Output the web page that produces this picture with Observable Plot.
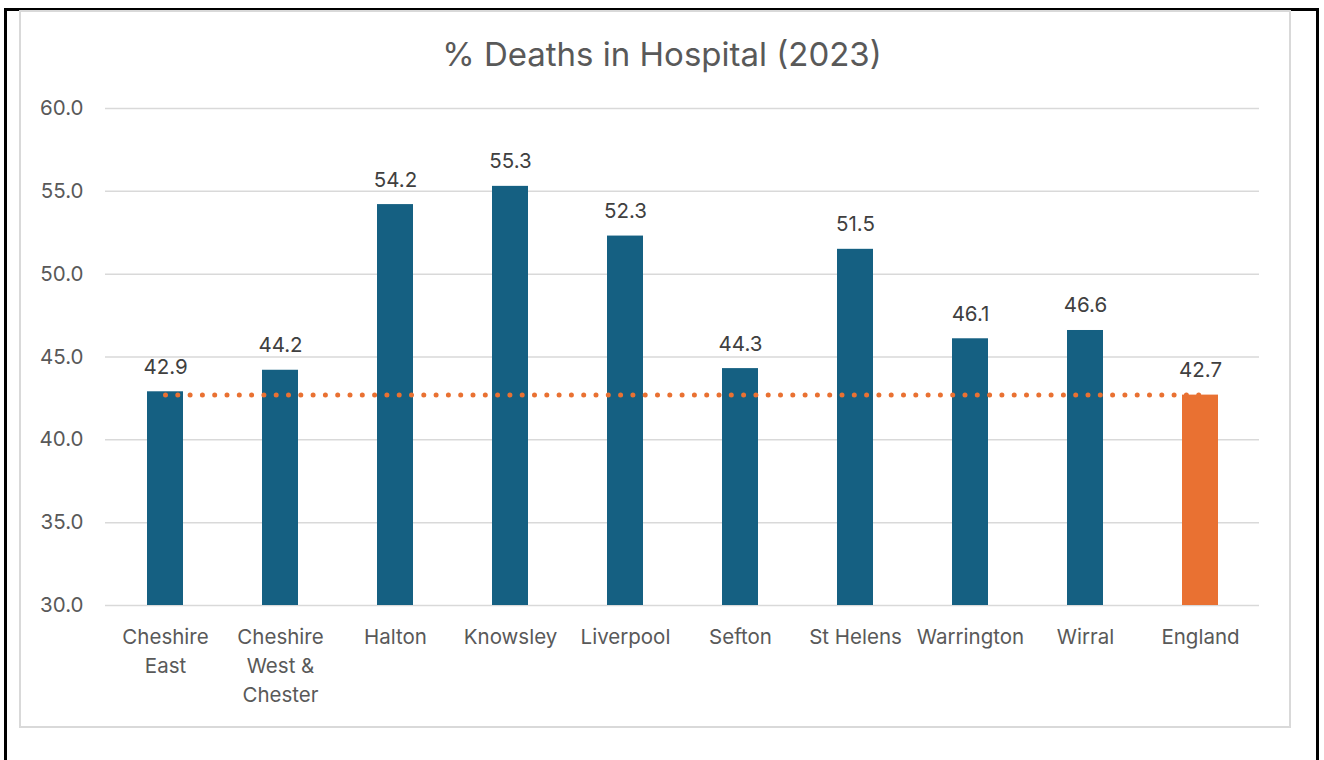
<!DOCTYPE html>
<html>
<head>
<meta charset="utf-8">
<script src="https://cdn.jsdelivr.net/npm/d3@7"></script>
<script src="https://cdn.jsdelivr.net/npm/@observablehq/plot@0.6"></script>
<style>
  html, body { margin: 0; padding: 0; background: #fff; }
  #page { position: relative; width: 1324px; height: 760px; overflow: hidden; font-family: Inter, sans-serif; }
  #outer { position: absolute; left: 4px; top: 8px; width: 1309px; height: 800px; border: 3px solid #000; border-bottom: none; }
  #frame { position: absolute; left: 19px; top: 10px; width: 1268px; height: 714px; border: 2px solid #d9d9d9; }
  #title { position: absolute; left: 0; width: 1324px; top: 34px; line-height: 40px; text-align: center; font-size: 33px; color: #595959; }
  #chart { position: absolute; left: 0; top: 0; }
</style>
</head>
<body>
<div id="page">
  <div id="outer"></div>
  <div id="frame"></div>
  <div id="title">% Deaths in Hospital (2023)</div>
  <div id="chart"></div>
</div>
<script>
// Areas and their share of deaths occurring in hospital, 2023
const areas = ["Cheshire East", "Cheshire West & Chester", "Halton", "Knowsley", "Liverpool", "Sefton", "St Helens", "Warrington", "Wirral", "England"];
const areaLabels = ["Cheshire\nEast", "Cheshire\nWest &\nChester", "Halton", "Knowsley", "Liverpool", "Sefton", "St Helens", "Warrington", "Wirral", "England"];
const pctDeaths = [42.9, 44.2, 54.2, 55.3, 52.3, 44.3, 51.5, 46.1, 46.6, 42.7];
const yTicks = [30, 35, 40, 45, 50, 55, 60];
const englandValue = 42.7;

const blue = "#156082";
const orange = "#e97132";

const rows = areas.map((a, i) => ({area: a, label: areaLabels[i], value: pctDeaths[i]}));

const chart = Plot.plot({
  width: 1324,
  height: 760,
  marginLeft: 105,
  marginRight: 65,
  marginTop: 108,
  marginBottom: 155,
  style: {fontFamily: "Inter, sans-serif", background: "transparent", overflow: "visible"},
  x: {type: "band", domain: areas, paddingInner: 0.69, paddingOuter: 0.345, axis: null},
  y: {domain: [30, 60], axis: null},
  marks: [
    Plot.ruleY(yTicks, {stroke: "#d9d9d9", strokeWidth: 1.5}),
    Plot.text(yTicks, {x: null, y: d => d, text: d => d.toFixed(1), frameAnchor: "left", textAnchor: "end", dx: -22, fontSize: 20.5, fill: "#595959"}),
    Plot.barY(rows, {x: "area", y1: 30, y2: "value", fill: d => d.area === "England" ? orange : blue}),
    Plot.lineY(areas, {x: d => d, y: () => englandValue, stroke: orange, strokeWidth: 5, strokeDasharray: "0 12.3", strokeLinecap: "round"}),
    Plot.text(rows, {x: "area", y: "value", text: d => d.value.toFixed(1), lineAnchor: "bottom", dy: -18, fontSize: 20.5, fill: "#404040"}),
    Plot.text(rows, {x: "area", y: 30, text: "label", lineAnchor: "top", dy: 18, lineHeight: 1.42, fontSize: 20.5, fill: "#595959"})
  ]
});
document.getElementById("chart").appendChild(chart);
</script>
</body>
</html>
